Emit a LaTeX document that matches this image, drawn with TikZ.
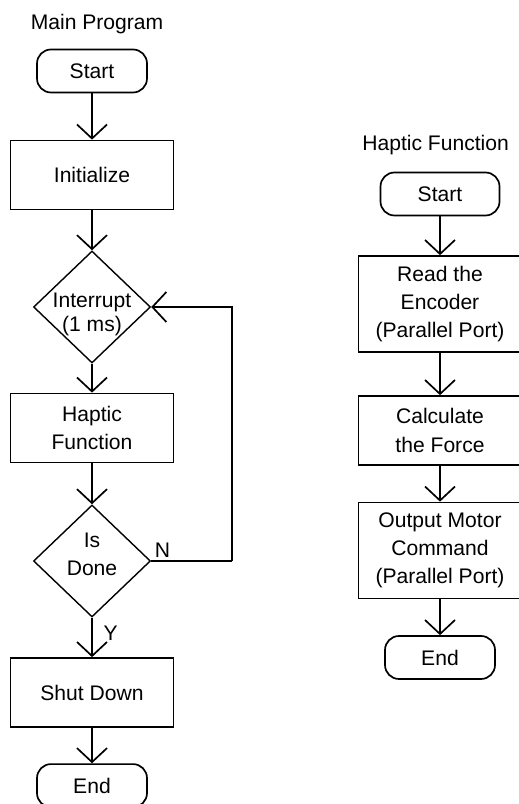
\documentclass[tikz,border=0pt]{standalone}
\usepackage{fontspec}
\setmainfont{Liberation Sans}
\usetikzlibrary{arrows.meta,positioning,shapes.geometric}

\begin{document}
\begin{tikzpicture}[
  font=\fontsize{15}{20}\selectfont,
  >={Straight Barb[length=0.35cm,width=0.75cm]},
  term/.style={draw,line width=1.2pt,rounded corners=0.35cm,minimum width=2.75cm,minimum height=1.075cm},
  proc/.style={draw,line width=1.2pt,minimum width=4.075cm,minimum height=1.725cm,align=center},
  decision/.style={diamond,draw,line width=1pt,minimum width=2.925cm,minimum height=2.8cm,inner sep=0pt},
  flow/.style={->,line width=1.2pt}
]
\useasboundingbox (0,0) rectangle (12.95,20.1);

% Main program - left column
\node (mtitle) at (2.425,19.5) {Main Program};
\node[term] (mstart) at (2.3,18.325) {Start};
\node[proc] (init) at (2.3,15.725) {Initialize};
\node[decision] (intr) at (2.3,12.425) {};
\node[align=center,font=\fontsize{15}{17}\selectfont] (intrtext) at (2.3,12.25) {Interrupt\\(1 ms)};
\node[proc] (haptic) at (2.3,9.4) {Haptic\\Function};
\node[decision] (isdone) at (2.3,6.075) {};
\node[align=center] (isdonetext) at (2.3,6.24) {Is\\Done};
\node[proc] (shutdown) at (2.3,2.7875) {Shut Down};
\node[term] (mend) at (2.3,0.46) {End};

% Main program - connectors
\draw[flow] (mstart) -- (init);
\draw[flow] (init) -- (intr);
\draw[flow] (intr) -- (haptic);
\draw[flow] (haptic) -- (isdone);
\draw[flow] (isdone) -- node[right,pos=0.4,xshift=0.15cm] (yes) {Y} (shutdown);
\draw[flow] (shutdown) -- (mend);

% Loop back when not done
\coordinate (loop) at (5.8,6.075);
\draw[line width=1.2pt] (isdone.east) -- node[pos=0,anchor=south west,inner sep=2pt] (no) {N} (loop);
\draw[flow] (loop) |- (intr.east);

% Haptic function - right column
\node (htitle) at (10.89,16.475) {Haptic Function};
\node[term,minimum width=2.975cm] (hstart) at (11.0,15.25) {Start};
\node[proc,minimum height=2.4cm] (read) at (11.0,12.5) {Read the\\Encoder\\(Parallel Port)};
\node[proc] (calc) at (11.0,9.3375) {Calculate\\the Force};
\node[proc,minimum height=2.4cm] (output) at (11.0,6.3375) {Output Motor\\Command\\(Parallel Port)};
\node[term] (hend) at (11.0,3.6625) {End};

% Haptic function - connectors
\draw[flow] (hstart) -- (read);
\draw[flow] (read) -- (calc);
\draw[flow] (calc) -- (output);
\draw[flow] (output) -- (hend);
\end{tikzpicture}
\end{document}
